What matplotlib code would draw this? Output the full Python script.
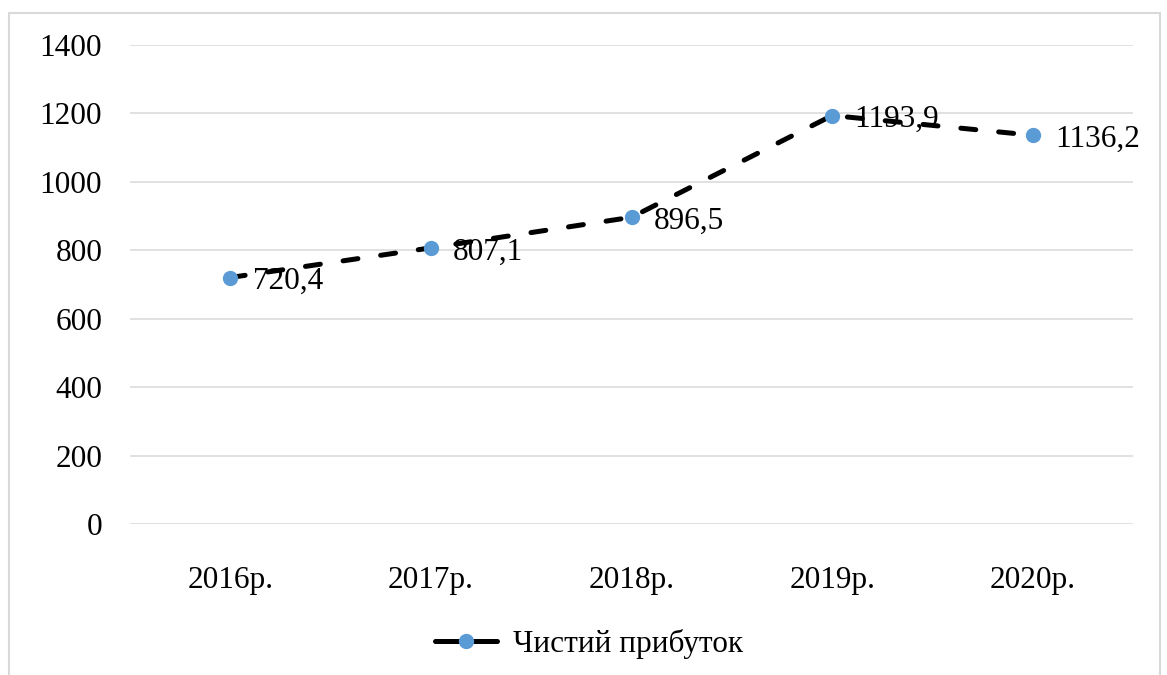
import matplotlib.pyplot as plt
from matplotlib.lines import Line2D
from matplotlib.patches import Rectangle

plt.rcParams['font.family'] = ['Liberation Serif', 'DejaVu Serif']

years = ["2016р.", "2017р.", "2018р.", "2019р.", "2020р."]
profit = [720.4, 807.1, 896.5, 1193.9, 1136.2]
series_name = "Чистий прибуток"

fig = plt.figure(figsize=(11.67, 6.75), dpi=100)
ax = fig.add_axes([130 / 1167, 1 - 524 / 675, 1003 / 1167, 479 / 675])

x = list(range(len(years)))
line, = ax.plot(x, profit, color="black", lw=3.6, dash_capstyle="round",
                marker="o", ms=10, mfc="#5b9bd5", mec="#5b9bd5", zorder=3,
                label=series_name)
line.set_dashes((3.0, 4.6))

# data labels to the right of points, decimal comma
for xi, v in zip(x, profit):
    ax.annotate(f"{v:.1f}".replace(".", ","), (xi, v), xytext=(16, -3),
                textcoords="offset points", ha="left", va="center",
                fontsize=22.5, zorder=4)

ax.set_xlim(-0.5, len(years) - 0.5)
ax.set_ylim(0, 1400)
ax.set_yticks(range(0, 1401, 200))
ax.set_xticks(x)
ax.set_xticklabels(years)
ax.tick_params(axis="both", length=0, labelsize=22.5)
ax.tick_params(axis="y", pad=20)
ax.tick_params(axis="x", pad=30)
ax.grid(axis="y", color="#d9d9d9", lw=1.1)
ax.set_axisbelow(True)
for s in ax.spines.values():
    s.set_visible(False)

# legend key looks like "—●—" in the original
key = Line2D([], [], color="black", lw=3.6, solid_capstyle="round",
             marker="o", ms=10, mfc="#5b9bd5", mec="#5b9bd5")
fig.legend(handles=[key], labels=[series_name], loc="center",
           bbox_to_anchor=(589 / 1167, 1 - 644 / 675),
           frameon=False, fontsize=22.5, handlelength=2.0, handletextpad=0.5)

# light chart-area border
fig.patches.append(Rectangle((9 / 1167, -0.1), 1151 / 1167, 1.1 - 13 / 675,
                             transform=fig.transFigure, fill=False,
                             edgecolor="#d9d9d9", lw=1.5))

fig.savefig("out.png", dpi=100)
